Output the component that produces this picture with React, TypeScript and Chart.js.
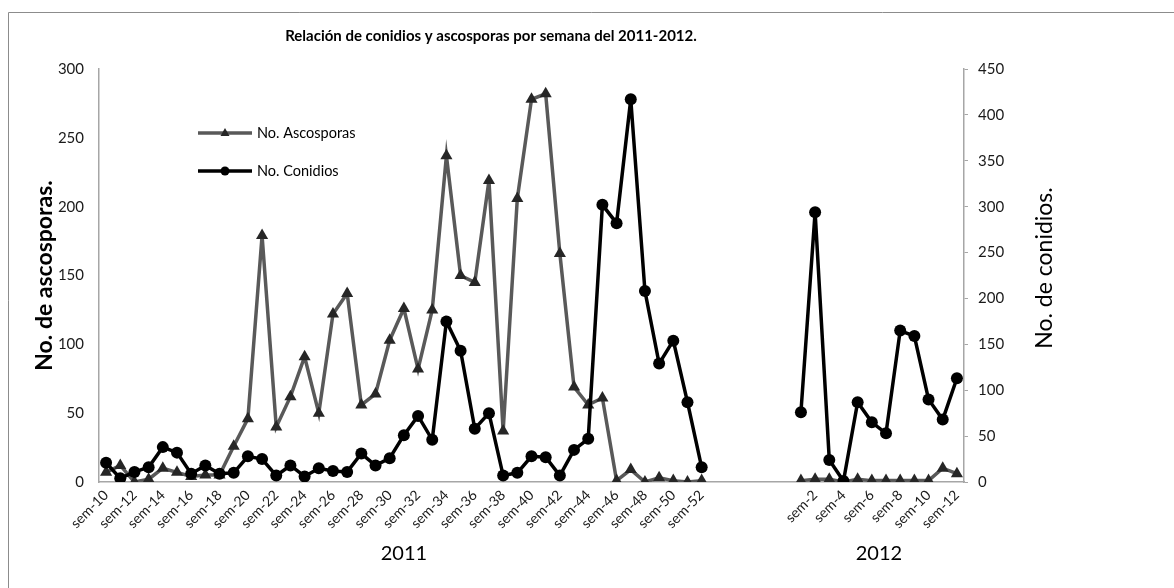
import React, { useEffect, useRef } from 'react';
import { Chart, registerables } from 'chart.js';

Chart.register(...registerables);

const TITLE = 'Relación de conidios y ascosporas por semana del 2011-2012.';
const LEFT_TITLE = 'No. de ascosporas.';
const RIGHT_TITLE = 'No. de conidios.';
const ASC_LABEL = 'No. Ascosporas';
const CON_LABEL = 'No. Conidios';

const weeks2011 = [
  'sem-10', 'sem-11', 'sem-12', 'sem-13', 'sem-14', 'sem-15', 'sem-16', 'sem-17', 'sem-18', 'sem-19',
  'sem-20', 'sem-21', 'sem-22', 'sem-23', 'sem-24', 'sem-25', 'sem-26', 'sem-27', 'sem-28', 'sem-29',
  'sem-30', 'sem-31', 'sem-32', 'sem-33', 'sem-34', 'sem-35', 'sem-36', 'sem-37', 'sem-38', 'sem-39',
  'sem-40', 'sem-41', 'sem-42', 'sem-43', 'sem-44', 'sem-45', 'sem-46', 'sem-47', 'sem-48', 'sem-49',
  'sem-50', 'sem-51', 'sem-52',
];
const gapLabels = ['', '', '', '', '', ''];
const weeks2012 = [
  'sem-1', 'sem-2', 'sem-3', 'sem-4', 'sem-5', 'sem-6', 'sem-7', 'sem-8', 'sem-9', 'sem-10', 'sem-11', 'sem-12',
];
const yearLabels = ['2011', '2012'];

const ascosporas2011 = [
  7, 12, 0, 2, 10, 7, 4, 5, 5, 26,
  46, 179, 40, 62, 91, 50, 122, 137, 56, 64,
  103, 126, 82, 125, 237, 150, 145, 219, 37, 206,
  278, 282, 166, 69, 56, 61, 1, 9, 0, 3,
  1, 0, 1,
];
const ascosporas2012 = [1, 2, 2, 0, 2, 1, 1, 1, 1, 1, 10, 6];

const conidios2011 = [
  21, 4, 11, 16, 38, 32, 9, 18, 9, 10,
  28, 25, 7, 18, 6, 15, 12, 11, 31, 18,
  26, 51, 72, 46, 175, 143, 58, 75, 7, 10,
  28, 27, 7, 35, 47, 302, 282, 417, 208, 129,
  154, 87, 16,
];
const conidios2012 = [76, 294, 24, 1, 87, 65, 53, 165, 159, 90, 68, 113];

const leftTicks = [0, 50, 100, 150, 200, 250, 300];
const rightTicks = [0, 50, 100, 150, 200, 250, 300, 350, 400, 450];

const FONT = 'Lato, "Open Sans", sans-serif';

export default function App() {
  const ref = useRef<HTMLCanvasElement | null>(null);

  useEffect(() => {
    if (!ref.current) return;
    const labels = [...weeks2011, ...gapLabels, ...weeks2012];
    const gapNulls = gapLabels.map(() => null);
    const ascData = [...ascosporas2011, ...gapNulls, ...ascosporas2012];
    const conData = [...conidios2011, ...gapNulls, ...conidios2012];
    const groups = [
      { label: yearLabels[0], start: 0, end: weeks2011.length - 1 },
      {
        label: yearLabels[1],
        start: weeks2011.length + gapLabels.length,
        end: labels.length - 1,
      },
    ];

    const overlay = {
      id: 'overlay',
      beforeDraw(chart: any) {
        const ctx = chart.ctx;
        ctx.save();
        ctx.strokeStyle = '#8c8c8c';
        ctx.lineWidth = 1;
        ctx.beginPath();
        ctx.moveTo(8.5, chart.height);
        ctx.lineTo(8.5, 12.5);
        ctx.lineTo(chart.width, 12.5);
        ctx.stroke();
        ctx.restore();
      },
      afterDraw(chart: any) {
        const ctx = chart.ctx;
        const area = chart.chartArea;
        const xs = chart.scales.x;
        ctx.save();
        ctx.fillStyle = '#000';
        ctx.textAlign = 'center';
        ctx.textBaseline = 'middle';
        ctx.font = `bold 15px ${FONT}`;
        ctx.fillText(TITLE, 491, 36);

        ctx.font = `20px ${FONT}`;
        groups.forEach((g) => {
          const cx = (xs.getPixelForValue(g.start) + xs.getPixelForValue(g.end)) / 2;
          ctx.fillText(g.label, cx, 554);
        });

        ctx.save();
        ctx.translate(1045, 268);
        ctx.rotate(-Math.PI / 2);
        ctx.font = `23px ${FONT}`;
        ctx.fillText(RIGHT_TITLE, 0, 0);
        ctx.restore();

        // legend
        const lx0 = area.left + 99;
        const lx1 = area.left + 153;
        const items = [
          { text: ASC_LABEL, y: 133, color: '#595959', marker: 'triangle', mColor: '#262626', w: 3.5 },
          { text: CON_LABEL, y: 171, color: '#000000', marker: 'circle', mColor: '#000000', w: 3.5 },
        ];
        items.forEach((it) => {
          ctx.strokeStyle = it.color;
          ctx.lineWidth = it.w;
          ctx.beginPath();
          ctx.moveTo(lx0, it.y);
          ctx.lineTo(lx1, it.y);
          ctx.stroke();
          ctx.fillStyle = it.mColor;
          const mx = (lx0 + lx1) / 2;
          ctx.beginPath();
          if (it.marker === 'circle') {
            ctx.arc(mx, it.y, 4.5, 0, Math.PI * 2);
          } else {
            ctx.moveTo(mx, it.y - 5);
            ctx.lineTo(mx + 4.5, it.y + 3);
            ctx.lineTo(mx - 4.5, it.y + 3);
            ctx.closePath();
          }
          ctx.fill();
          ctx.fillStyle = '#000';
          ctx.textAlign = 'left';
          ctx.font = `14.5px ${FONT}`;
          ctx.fillText(it.text, lx1 + 5, it.y);
        });
        ctx.restore();
      },
    };

    const chart = new Chart(ref.current, {
      type: 'line',
      data: {
        labels,
        datasets: [
          {
            label: CON_LABEL,
            data: conData,
            yAxisID: 'y1',
            borderColor: '#000000',
            backgroundColor: '#000000',
            borderWidth: 3.5,
            pointStyle: 'circle',
            pointRadius: 6,
            pointBackgroundColor: '#000000',
            pointBorderColor: '#000000',
            pointBorderWidth: 0,
            spanGaps: false,
            order: 0,
          },
          {
            label: ASC_LABEL,
            data: ascData,
            yAxisID: 'y',
            borderColor: '#595959',
            backgroundColor: '#262626',
            borderWidth: 3.5,
            pointStyle: 'triangle',
            pointRadius: 7,
            pointBackgroundColor: '#262626',
            pointBorderColor: '#262626',
            pointBorderWidth: 0,
            spanGaps: false,
            order: 1,
          },
        ],
      },
      options: {
        responsive: false,
        animation: false,
        layout: { padding: { left: 31, right: 117, top: 69, bottom: 0 } },
        plugins: {
          legend: { display: false },
          title: { display: false },
          tooltip: { enabled: false },
        },
        scales: {
          x: {
            offset: true,
            grid: { display: false, drawTicks: false },
            border: { display: true, color: '#a6a6a6', width: 1.5 },
            ticks: {
              autoSkip: false,
              maxRotation: 45,
              minRotation: 45,
              padding: 5,
              color: '#1a1a1a',
              font: { family: FONT, size: 14 },
              callback: (_v: any, i: number) => (i % 2 === 0 ? labels[i] : ''),
            },
            afterFit: (s: any) => {
              s.height = 106;
            },
          },
          y: {
            position: 'left',
            min: 0,
            max: 300,
            afterBuildTicks: (s: any) => {
              s.ticks = leftTicks.map((v) => ({ value: v }));
            },
            grid: { display: false, drawTicks: false },
            border: { display: true, color: '#a6a6a6', width: 1.5 },
            ticks: {
              padding: 15,
              color: '#1a1a1a',
              font: { family: FONT, size: 15 },
            },
            title: {
              display: true,
              text: LEFT_TITLE,
              color: '#000',
              padding: 0,
              font: { family: FONT, size: 23, weight: 'bold' },
            },
            afterFit: (s: any) => {
              s.width = 68;
            },
          },
          y1: {
            position: 'right',
            min: 0,
            max: 450,
            afterBuildTicks: (s: any) => {
              s.ticks = rightTicks.map((v) => ({ value: v }));
            },
            grid: { drawOnChartArea: false, drawTicks: true, tickLength: 4, color: '#a6a6a6' },
            border: { display: true, color: '#a6a6a6', width: 1.5 },
            ticks: {
              padding: 10,
              color: '#1a1a1a',
              font: { family: FONT, size: 15 },
            },
            afterFit: (s: any) => {
              s.width = 93;
            },
          },
        },
      },
      plugins: [overlay],
    });
    return () => chart.destroy();
  }, []);

  return (
    <div style={{ position: 'fixed', left: 0, top: 0, width: 1174, height: 588, background: '#fff' }}>
      <canvas ref={ref} width={1174} height={588} />
    </div>
  );
}
